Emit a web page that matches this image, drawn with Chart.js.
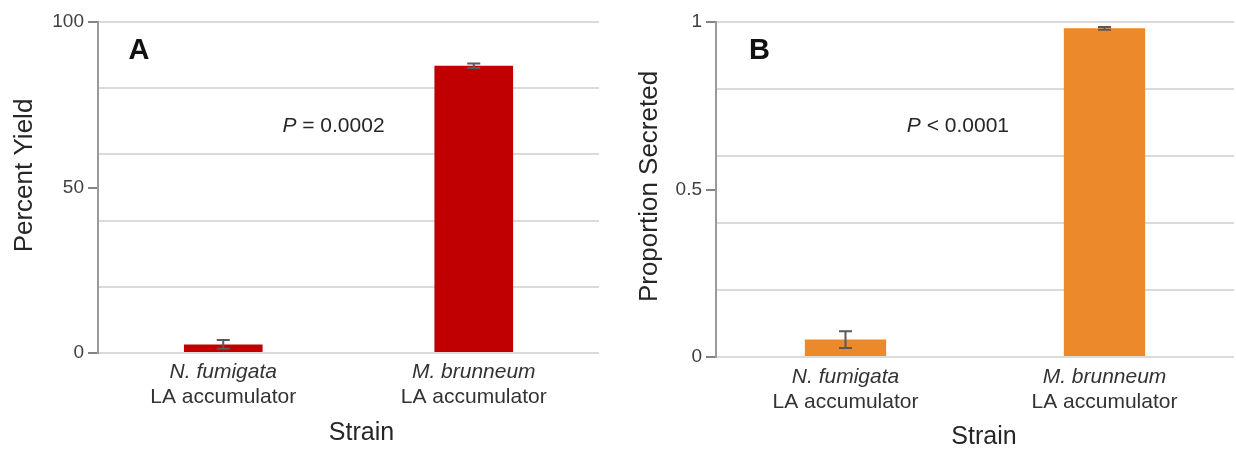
<!DOCTYPE html>
<html>
<head>
<meta charset="utf-8">
<script src="https://cdn.jsdelivr.net/npm/chart.js@4"></script>
<style>
  html, body { margin: 0; padding: 0; background: #fff; }
  #wrap { position: relative; width: 1236px; height: 451px; }
  .panel { position: absolute; top: 0; }
</style>
</head>
<body>
<div id="wrap">
  <canvas id="chartA" class="panel" width="618" height="451" style="left:0px"></canvas>
  <canvas id="chartB" class="panel" width="618" height="451" style="left:618px"></canvas>
</div>
<script>
// ---- Data ----
const speciesLabels = ['N. fumigata', 'M. brunneum'];
const groupLabels = ['LA accumulator', 'LA accumulator'];
const yieldValues = [2.6, 86.8];
const yieldErrors = [1.3, 0.7];
const secretedValues = [0.052, 0.981];
const secretedErrors = [0.025, 0.004];
const yieldTickLabels = [0, 50, 100];
const secretedTickLabels = [0, 0.5, 1];
const panelLetters = ['A', 'B'];
const pValueTexts = ['= 0.0002', '< 0.0001'];
const yTitles = ['Percent Yield', 'Proportion Secreted'];
const xTitle = 'Strain';

const FONT = "'Liberation Sans', Arial, Helvetica, sans-serif";

function makeChart(canvasId, cfg) {
  const errorBarPlugin = {
    id: 'errorBars',
    afterDatasetsDraw(chart) {
      const ctx = chart.ctx;
      const meta = chart.getDatasetMeta(0);
      const ys = chart.scales.y;
      ctx.save();
      ctx.strokeStyle = '#5a5a5a';
      ctx.lineWidth = 2;
      meta.data.forEach((bar, i) => {
        const v = cfg.values[i], e = cfg.errors[i];
        const yt = ys.getPixelForValue(v + e);
        const yb = ys.getPixelForValue(v - e);
        const x = bar.x;
        ctx.beginPath();
        ctx.moveTo(x, yt); ctx.lineTo(x, yb);
        ctx.moveTo(x - 6.5, yt); ctx.lineTo(x + 6.5, yt);
        ctx.moveTo(x - 6.5, yb); ctx.lineTo(x + 6.5, yb);
        ctx.stroke();
      });
      ctx.restore();
    }
  };
  const annotationPlugin = {
    id: 'annotations',
    afterDraw(chart) {
      const ctx = chart.ctx;
      const xs = chart.scales.x, ys = chart.scales.y;
      const area = chart.chartArea;
      ctx.save();
      // axis titles
      ctx.fillStyle = '#262626';
      ctx.textAlign = 'center';
      ctx.textBaseline = 'middle';
      ctx.font = '26px ' + FONT;
      ctx.save();
      ctx.translate(cfg.yTitleX, (area.top + area.bottom) / 2 + cfg.yTitleDy);
      ctx.rotate(-Math.PI / 2);
      ctx.fillText(cfg.yTitle, 0, 0);
      ctx.restore();
      ctx.font = '25px ' + FONT;
      ctx.fillText(xTitle, (area.left + area.right) / 2 + cfg.xTitleDx, cfg.xTitleY);
      // panel letter
      ctx.font = 'bold 29px ' + FONT;
      ctx.fillStyle = '#111';
      ctx.fillText(cfg.letter, xs.getPixelForValue(cfg.letterPos[0]), ys.getPixelForValue(cfg.letterPos[1]));
      // P value
      const cx = xs.getPixelForValue(cfg.pPos[0]);
      const cy = ys.getPixelForValue(cfg.pPos[1]);
      const italic = 'italic 21px ' + FONT;
      const normal = '21px ' + FONT;
      ctx.font = italic;
      const wP = ctx.measureText('P ').width;
      ctx.font = normal;
      const wR = ctx.measureText(cfg.pText).width;
      const x0 = cx - (wP + wR) / 2;
      ctx.textAlign = 'left';
      ctx.fillStyle = '#262626';
      ctx.font = italic;
      ctx.fillText('P ', x0, cy);
      ctx.font = normal;
      ctx.fillText(cfg.pText, x0 + wP, cy);
      ctx.restore();
    }
  };

  return new Chart(document.getElementById(canvasId), {
    type: 'bar',
    data: {
      labels: speciesLabels,
      datasets: [{
        data: cfg.values,
        backgroundColor: cfg.color,
        borderWidth: 0,
        categoryPercentage: 1,
        barPercentage: 0.314
      }]
    },
    options: {
      responsive: false,
      animation: false,
      layout: { padding: { top: 22, right: cfg.padRight, bottom: 0, left: 0 } },
      plugins: { legend: { display: false }, tooltip: { enabled: false } },
      scales: {
        y: {
          min: 0, max: cfg.max,
          afterFit: (s) => { s.width = 98; },
          border: { display: true, color: '#9a9a9a', width: 2 },
          grid: {
            lineWidth: 2,
            color: (c) => (Math.round(c.tick.value / cfg.step) % 2 === 0 ? '#dadada' : 'rgba(0,0,0,0)'),
            tickColor: (c) => (cfg.tickLabels.some(t => Math.abs(t - c.tick.value) < 1e-9) ? '#5a5a5a' : 'rgba(0,0,0,0)'),
            tickLength: 10,
            tickWidth: 1.5,
            drawTicks: true
          },
          ticks: {
            stepSize: cfg.step,
            autoSkip: false,
            padding: 4,
            color: '#404040',
            font: { family: FONT, size: 19 },
            callback: (v) => {
              const hit = cfg.tickLabels.find(t => Math.abs(t - v) < 1e-9);
              return hit === undefined ? '' : String(hit);
            }
          },
          title: { display: false }
        },
        x: {
          type: 'category',
          position: 'bottom',
          weight: 1,
          offset: true,
          afterFit: (s) => { s.height = cfg.xH1; },
          border: { display: false },
          grid: { display: false, drawTicks: false, offset: true },
          ticks: {
            padding: cfg.xPad1,
            color: '#333',
            font: { family: FONT, size: 21, style: 'italic' },
            maxRotation: 0, autoSkip: false
          }
        },
        x2: {
          type: 'category',
          position: 'bottom',
          weight: 2,
          offset: true,
          labels: groupLabels,
          afterFit: (s) => { s.height = cfg.xH2; },
          border: { display: false },
          grid: { display: false, drawTicks: false, offset: true },
          ticks: {
            padding: 0,
            color: '#333',
            font: { family: FONT, size: 21 },
            maxRotation: 0, autoSkip: false
          },
          title: { display: false }
        }
      }
    },
    plugins: [errorBarPlugin, annotationPlugin]
  });
}

makeChart('chartA', {
  values: yieldValues, errors: yieldErrors, color: '#C00000',
  max: 100, step: 10, tickLabels: yieldTickLabels,
  yTitle: yTitles[0], yTitleX: 25, yTitleDy: -12, padRight: 19,
  xH1: 32, xPad1: 7, xH2: 66, xTitleDx: 13, xTitleY: 433,
  letter: panelLetters[0], letterPos: [-0.336, 91.2],
  pText: pValueTexts[0], pPos: [0.44, 68.6]
});

makeChart('chartB', {
  values: secretedValues, errors: secretedErrors, color: '#EC892B',
  max: 1, step: 0.1, tickLabels: secretedTickLabels,
  yTitle: yTitles[1], yTitleX: 32, yTitleDy: -3, padRight: 2,
  xH1: 33, xPad1: 8, xH2: 61, xTitleDx: 9, xTitleY: 437,
  letter: panelLetters[1], letterPos: [-0.332, 0.914],
  pText: pValueTexts[1], pPos: [0.434, 0.69]
});
</script>
</body>
</html>
